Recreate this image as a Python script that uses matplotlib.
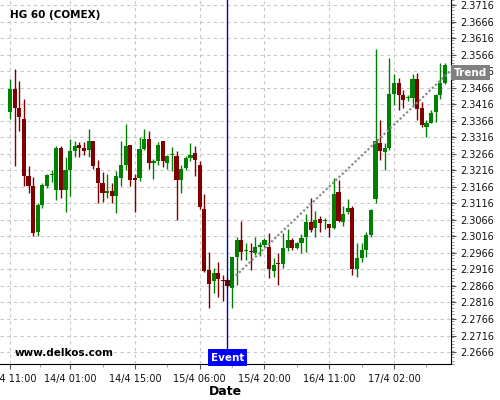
import numpy as np
import matplotlib
matplotlib.use('Agg')
import matplotlib.pyplot as plt
from matplotlib.transforms import blended_transform_factory
from matplotlib.ticker import MultipleLocator, FixedLocator

# hourly candles, HG 60 (COMEX)
opens = [2.3391, 2.3463, 2.3405, 2.3372, 2.3198, 2.3168, 2.3028, 2.3111, 2.3169, 2.3201,
         2.3156, 2.3282, 2.3156, 2.3216, 2.3273, 2.3291, 2.3283, 2.3276, 2.3306, 2.3222,
         2.3176, 2.3148, 2.3153, 2.3139, 2.3194, 2.3231, 2.3291, 2.3193, 2.3193, 2.3281,
         2.3311, 2.3238, 2.3243, 2.3303, 2.3239, 2.3263, 2.3260, 2.3188, 2.3224, 2.3254,
         2.3268, 2.3233, 2.3098, 2.2915, 2.2880, 2.2906, 2.2885, 2.2885, 2.2861, 2.2955,
         2.3005, 2.2973, 2.2973, 2.2966, 2.2985, 2.2991, 2.2985, 2.2910, 2.2935, 2.2932,
         2.2981, 2.3005, 2.2981, 2.2996, 2.3013, 2.3058, 2.3042, 2.3068, 2.3062, 2.3053,
         2.3041, 2.3150, 2.3060, 2.3090, 2.3103, 2.2916, 2.2950, 2.2975, 2.3020, 2.3130,
         2.3298, 2.3271, 2.3283, 2.3448, 2.3481, 2.3443, 2.3434, 2.3436, 2.3493, 2.3403,
         2.3348, 2.3358, 2.3391, 2.3443, 2.3481]
highs = [2.3491, 2.3523, 2.3485, 2.3431, 2.3229, 2.3196, 2.3118, 2.3176, 2.3206, 2.3216,
         2.3290, 2.3290, 2.3256, 2.3311, 2.3306, 2.3301, 2.3301, 2.3341, 2.3306, 2.3246,
         2.3211, 2.3206, 2.3176, 2.3214, 2.3303, 2.3356, 2.3291, 2.3206, 2.3316, 2.3341,
         2.3336, 2.3251, 2.3301, 2.3303, 2.3261, 2.3285, 2.3275, 2.3232, 2.3258, 2.3298,
         2.3288, 2.3243, 2.3143, 2.2968, 2.2920, 2.2938, 2.2898, 2.2890, 2.2954, 2.3013,
         2.3063, 2.2995, 2.2995, 2.3013, 2.2998, 2.3010, 2.3025, 2.2950, 2.2965, 2.3026,
         2.3038, 2.3010, 2.2998, 2.3023, 2.3083, 2.3133, 2.3093, 2.3078, 2.3073, 2.3053,
         2.3193, 2.3185, 2.3108, 2.3128, 2.3108, 2.2995, 2.2995, 2.3028, 2.3098, 2.3583,
         2.3368, 2.3298, 2.3556, 2.3508, 2.3496, 2.3458, 2.3445, 2.3508, 2.3511, 2.3423,
         2.3368, 2.3398, 2.3448, 2.3541, 2.3541]
lows = [2.3371, 2.3228, 2.3336, 2.3169, 2.3146, 2.3018, 2.3018, 2.3101, 2.3161, 2.3181,
        2.3126, 2.3131, 2.3091, 2.3139, 2.3256, 2.3256, 2.3261, 2.3256, 2.3221, 2.3116,
        2.3121, 2.3131, 2.3116, 2.3086, 2.3169, 2.3216, 2.3169, 2.3091, 2.3183, 2.3276,
        2.3221, 2.3191, 2.3231, 2.3226, 2.3221, 2.3213, 2.3066, 2.3148, 2.3218, 2.3243,
        2.3198, 2.3098, 2.2908, 2.2800, 2.2846, 2.2833, 2.2820, 2.2862, 2.2800, 2.2869,
        2.2943, 2.2943, 2.2913, 2.2960, 2.2958, 2.2983, 2.2890, 2.2893, 2.2870, 2.2921,
        2.2973, 2.2976, 2.2978, 2.2965, 2.2968, 2.3028, 2.3013, 2.3028, 2.3038, 2.3013,
        2.3038, 2.3058, 2.3048, 2.3083, 2.2898, 2.2893, 2.2938, 2.2953, 2.3015, 2.3118,
        2.3248, 2.3218, 2.3278, 2.3413, 2.3398, 2.3403, 2.3425, 2.3408, 2.3368, 2.3348,
        2.3316, 2.3358, 2.3363, 2.3433, 2.3478]
closes = [2.3463, 2.3403, 2.3376, 2.3199, 2.3169, 2.3026, 2.3111, 2.3171, 2.3201, 2.3204,
          2.3282, 2.3156, 2.3216, 2.3273, 2.3288, 2.3283, 2.3274, 2.3306, 2.3228, 2.3178,
          2.3148, 2.3153, 2.3139, 2.3198, 2.3231, 2.3288, 2.3188, 2.3188, 2.3281, 2.3311,
          2.3238, 2.3243, 2.3291, 2.3244, 2.3258, 2.3266, 2.3186, 2.3220, 2.3254, 2.3263,
          2.3246, 2.3105, 2.2910, 2.2871, 2.2906, 2.2886, 2.2880, 2.2866, 2.2954, 2.3005,
          2.2970, 2.2976, 2.2970, 2.2983, 2.2991, 2.3005, 2.2916, 2.2930, 2.2931, 2.2981,
          2.3005, 2.2981, 2.2996, 2.3011, 2.3058, 2.3036, 2.3065, 2.3056, 2.3064, 2.3041,
          2.3143, 2.3063, 2.3083, 2.3103, 2.2916, 2.2950, 2.2975, 2.3020, 2.3095, 2.3305,
          2.3273, 2.3283, 2.3448, 2.3481, 2.3445, 2.3430, 2.3436, 2.3493, 2.3400, 2.3353,
          2.3358, 2.3388, 2.3443, 2.3481, 2.3533]

tick_pos = [0, 13, 27, 41, 55, 69, 83]
tick_labels = ['13/4 11:00', '14/4 01:00', '14/4 15:00', '15/4 06:00',
               '15/4 20:00', '16/4 11:00', '17/4 02:00']
event_idx = 47
trend_x = [48.8, 95.3]
trend_y = [2.2897, 2.3518]

up_col = '#008000'
down_col = '#800000'

fig = plt.figure(figsize=(5, 4), dpi=100)
ax = fig.add_axes([0, 0.09, 0.902, 0.91])

x = np.arange(len(opens))
o = np.array(opens)
c = np.array(closes)
cols = [up_col if cc >= oo else down_col for oo, cc in zip(o, c)]

ax.vlines(x, lows, highs, colors=cols, lw=1, zorder=3)
body = np.maximum(np.abs(c - o), 0.0003)
ax.bar(x, body, bottom=np.minimum(o, c), width=0.9, color=cols, lw=0, zorder=4)

# trend line
ax.plot(trend_x, trend_y, color='#8c8c8c', lw=1.6, ls=(0, (1, 1)), zorder=5)

# event marker
ax.axvline(event_idx, color='#0000c8', lw=1, zorder=6)
ax.text(event_idx, 0.004, 'Event', transform=blended_transform_factory(ax.transData, ax.transAxes),
        ha='center', va='bottom', color='white', fontweight='bold', fontsize=7.5,
        bbox=dict(boxstyle='square,pad=0.3', fc='#0000ff', ec='none'), zorder=7)

ax.text(1.006, 2.3511, 'Trend', transform=blended_transform_factory(ax.transAxes, ax.transData),
        ha='left', va='center', color='white', fontweight='bold', fontsize=7.5,
        bbox=dict(boxstyle='square,pad=0.25', fc='#808080', ec='none'), clip_on=False, zorder=8)

ax.set_xlim(-2.16, 95.31)
ax.set_ylim(2.26298, 2.37311)

ax.xaxis.set_major_locator(FixedLocator(tick_pos))
ax.set_xticklabels(tick_labels)
mids = [(a + b) / 2 for a, b in zip(tick_pos[:-1], tick_pos[1:])] + [tick_pos[-1] + 7]
ax.xaxis.set_minor_locator(FixedLocator(mids))

yt = np.round(np.arange(2.2666, 2.3720, 0.005), 4)
ax.set_yticks(yt)
ax.set_yticklabels(['%.4f' % v for v in yt])
ax.yaxis.set_minor_locator(MultipleLocator(0.001))
ax.yaxis.tick_right()

ax.tick_params(axis='both', which='major', labelsize=7, length=3.5, color='#555555', labelcolor='#111111')
ax.tick_params(axis='both', which='minor', length=2, color='#888888')

ax.grid(True, which='major', color='#c8c8c8', ls=(0, (3, 3)), lw=0.8, zorder=0)

for s in ['top', 'left']:
    ax.spines[s].set_visible(False)
ax.spines['right'].set_color('black')
ax.spines['bottom'].set_color('black')

ax.set_xlabel('Date', fontsize=9, fontweight='bold', labelpad=1)

fig.text(0.02, 0.962, 'HG 60 (COMEX)', fontsize=7.5, fontweight='bold', va='center')
fig.text(0.03, 0.117, 'www.delkos.com', fontsize=7.5, fontweight='bold', va='center')

fig.savefig('out.png', dpi=100)
